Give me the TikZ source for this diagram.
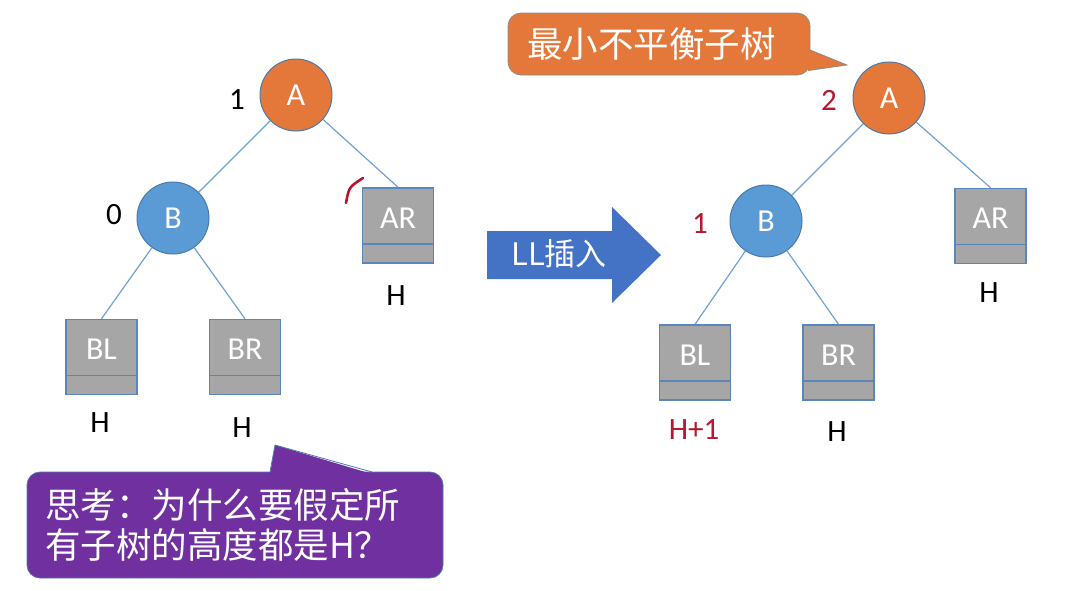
\documentclass[tikz,border=0pt]{standalone}
\usepackage{fontspec}
\setmainfont{Carlito}
\newfontfamily\cjk{Noto Sans CJK SC}
\usepackage{xcolor}
\usepackage{tikz}
\usetikzlibrary{positioning}
\definecolor{rootorange}{HTML}{E4783A}
\definecolor{kidblue}{HTML}{5B9BD5}
\definecolor{ringblue}{HTML}{4A7BAA}
\definecolor{boxgrey}{HTML}{A6A6A6}
\definecolor{boxline}{HTML}{5A86BC}
\definecolor{edgeblue}{HTML}{6FA1D3}
\definecolor{hotred}{HTML}{B4182E}
\definecolor{notepurple}{HTML}{7030A0}
\definecolor{arrowblue}{HTML}{4472C4}
\tikzset{
  vert/.style   ={circle,draw=ringblue,line width=1pt,minimum size=72pt,inner sep=0pt,text=white,font=\fontsize{32}{32}\selectfont},
  vA/.style     ={fill=rootorange},
  vB/.style     ={fill=kidblue},
  sub/.style    ={rectangle,draw=boxline,line width=1.5pt,fill=boxgrey,minimum width=71pt,minimum height=75pt,inner sep=0pt,
                  text height=21pt,text depth=16pt,text=white,font=\fontsize{32}{32}\selectfont,
                  path picture={\draw[boxline,line width=1.5pt]([yshift=19pt]path picture bounding box.south west)--([yshift=19pt]path picture bounding box.south east);}},
  tedge/.style  ={edgeblue,line width=1.2pt},
  num/.style    ={inner sep=1pt,font=\fontsize{31}{31}\selectfont},
  hot/.style    ={text=hotred},
  note/.style   ={rectangle,rounded corners=13pt,line width=0.8pt,text=white,align=left,font=\cjk\fontsize{35.5}{40}\selectfont},
}

\begin{document}
\begin{tikzpicture}[x=1pt,y=-1pt]
  \useasboundingbox (0,0) rectangle (1086,590);
  \node[vert,vA](A1) at (296,95){A};        \node[vert,vB](B1) at (173,218){B};
  \node[sub](AR1) at (398,225.5){AR};       \node[sub](BL1) at (101.5,357){BL};  \node[sub](BR1) at (245,357){BR};
  \node[vert,vA](A2) at (889,98){A};        \node[vert,vB](B2) at (766,221){B};
  \node[sub](AR2) at (990.5,226){AR};       \node[sub](BL2) at (695,362.5){BL};  \node[sub](BR2) at (838.5,362.5){BR};
  \foreach \t in {1,2}{\draw[tedge](A\t)--(B\t); \draw[tedge](A\t)--(AR\t.north);
    \draw[tedge](B\t)--(BL\t.north); \draw[tedge](B\t)--(BR\t.north);}
  \node[num](bf1) at (237,100){1};          \node[num](bf2) at (114,215){0};
  \node[num](hAR1) at (396,296){H};         \node[num](hBL1) at (100,423){H};    \node[num](hBR1) at (242,428){H};
  \node[num,hot](bf3) at (829,100){2};      \node[num,hot](bf4) at (700,224){1};
  \node[num](hAR2) at (989,293){H};         \node[num,hot](hBL2) at (694,430){H+1}; \node[num](hBR2) at (837,432){H};
  \draw[hotred,line width=2.6pt,line cap=round](346,203) .. controls (349,187) .. (363,178);
  \fill[arrowblue](487,231)--(612,231)--(612,207)--(661,255)--(612,303)--(612,279)--(487,279)--cycle;
  \node[text=white,font=\cjk\fontsize{31}{31}\selectfont](ll) at (559,254){LL插入};
  \node[note,fill=rootorange,draw=black!45,minimum width=302pt,minimum height=62pt,text width=264pt,inner xsep=19pt](mini) at (659,44){最小不平衡子树};
  \fill[rootorange](808,49)--(847,65)--(808,71)--cycle;
  \draw[black!45,line width=0.8pt](810,50)--(847,65)--(810,70);
  \node[note,fill=notepurple,draw=ringblue,minimum width=416pt,minimum height=106pt,text width=380pt,inner xsep=18pt](think) at (235,525){思考：为什么要假定所\\有子树的高度都是H？};
  \fill[notepurple](270,474)--(275,445)--(372,474)--cycle;
  \draw[ringblue,line width=0.8pt](270,472)--(275,445)--(372,472);
\end{tikzpicture}
\end{document}
